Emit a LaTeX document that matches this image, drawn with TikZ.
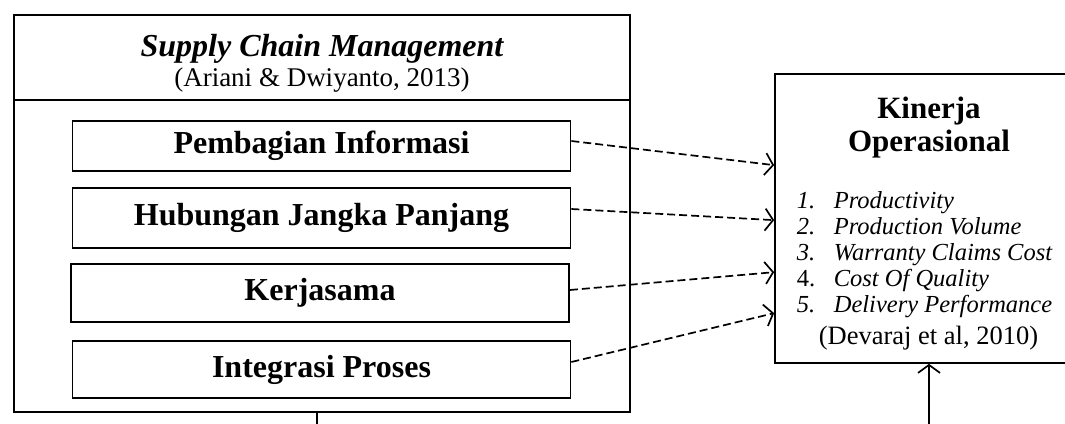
\documentclass[tikz,border=0pt]{standalone}
\usepackage{fontspec}
\setmainfont{Liberation Serif}
\usetikzlibrary{arrows.meta,calc,positioning}

\begin{document}
\begin{tikzpicture}[x=1pt,y=-1pt,line width=1.7pt,
	>={Straight Barb[length=8pt,width=22pt]},
	faktor/.style={draw,minimum width=498pt,font=\fontsize{32}{36}\selectfont\bfseries},
	panah/.style={->,dash pattern=on 8pt off 4pt}]
	\useasboundingbox (0,0) rectangle (1065,423);
	\clip (0,0) rectangle (1065,423);

	% supply chain management
	\node [draw,minimum width=616pt,minimum height=397pt] (scm) at (322,213.5) {};
	\node [draw,anchor=north,minimum width=616pt,minimum height=85pt] (header) at (scm.north) {};
	\node [align=center,inner sep=0pt] (judulscm) at ($(header.center)+(0,6)$)
		{{\fontsize{32}{32}\selectfont\bfseries\itshape Supply Chain Management}\\[3pt]
		{\fontsize{27}{32}\selectfont (Ariani \& Dwiyanto, 2013)}};

	\node [faktor,minimum height=50pt] (info) at (321.5,146) {Pembagian Informasi};
	\node [faktor,minimum height=60pt] (jangka) at (321.5,218) {Hubungan Jangka Panjang};
	\node [faktor,minimum height=58pt] (kerja) at (320,293) {Kerjasama};
	\node [faktor,minimum height=57pt] (integrasi) at (321.5,369.5) {Integrasi Proses};

	% kinerja operasional
	\node [draw,minimum width=308pt,minimum height=289pt] (kinerja) at (929,218.5) {};
	\node [font=\fontsize{31}{33}\selectfont\bfseries,align=center,inner sep=0pt] (judul) at (929,127.5) {Kinerja\\Operasional};
	\node [anchor=west,inner sep=0pt,font=\fontsize{24.5}{26}\selectfont] (daftar) at (796,255) {%
		\begin{tabular}{@{}p{37pt}@{}l@{}}
		\textit{1.} & \textit{Productivity}\\
		\textit{2.} & \textit{Production Volume}\\
		\textit{3.} & \textit{Warranty Claims Cost}\\
		4. & \textit{Cost Of Quality}\\
		\textit{5.} & \textit{Delivery Performance}
		\end{tabular}};
	\node [inner sep=0pt,font=\fontsize{26.5}{28}\selectfont] (sumber) at (928.5,338) {(Devaraj et al, 2010)};

	\draw [panah] ($(info.east)+(0,-5)$) -- ($(kinerja.north west)+(0,92)$);
	\draw [panah] ($(jangka.east)+(0,-9)$) -- ($(kinerja.north west)+(0,147)$);
	\draw [panah] ($(kerja.east)+(0,-3)$) -- ($(kinerja.north west)+(0,199)$);
	\draw [panah] ($(integrasi.east)+(0,-7.5)$) -- ($(kinerja.north west)+(0,240)$);

	\coordinate (bawahkiri) at (317,440);
	\coordinate (bawahkanan) at (929,440);
	\draw (scm.south -| bawahkiri) -- (bawahkiri);
	\draw [->] (bawahkanan) -- (kinerja.south);
\end{tikzpicture}
\end{document}
